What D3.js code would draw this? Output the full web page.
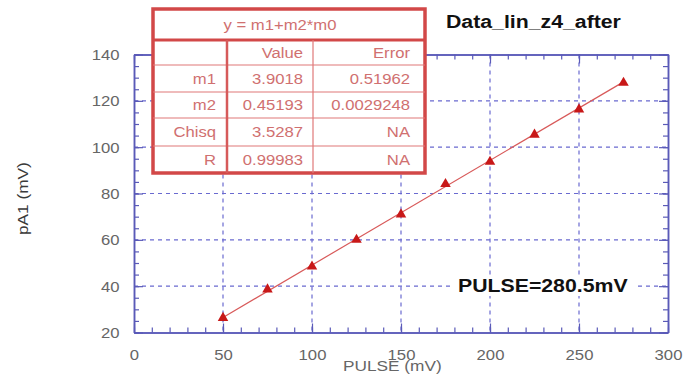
<!DOCTYPE html>
<html>
<head>
<meta charset="utf-8">
<script src="https://cdn.jsdelivr.net/npm/d3@7"></script>
<style>
  body { margin: 0; background: #fff; }
  svg { display: block; }
  text { font-family: "Liberation Sans", Arial, sans-serif; }
</style>
</head>
<body>
<svg id="chart" width="683" height="381"></svg>
<script>
// Measured points
const pulse = [50, 75, 100, 125, 150, 175, 200, 225, 250, 275];
const pa1 = [26.3, 38.6, 48.5, 60.0, 71.0, 84.1, 93.7, 105.4, 116.3, 127.8];

// Linear fit y = m1 + m2*m0
const m1 = 3.9018;
const m2 = 0.45193;

// Axis ticks
const xTicks = [0, 50, 100, 150, 200, 250, 300];
const yTicks = [20, 40, 60, 80, 100, 120, 140];
const xMinor = d3.range(0, 301, 10);
const yMinor = d3.range(20, 141, 5);

// Fit results table
const tableTitle = "y = m1+m2*m0";
const tableHead = ["", "Value", "Error"];
const tableRows = [
  ["m1", "3.9018", "0.51962"],
  ["m2", "0.45193", "0.0029248"],
  ["Chisq", "3.5287", "NA"],
  ["R", "0.99983", "NA"]
];

const chartTitle = "Data_lin_z4_after";
const note = "PULSE=280.5mV";
const xTitle = "PULSE (mV)";
const yTitle = "pA1  (mV)";

const SX = 1.15; // horizontal glyph stretch
const svg = d3.select("#chart");

const x = d3.scaleLinear().domain([0, 300]).range([134, 668]);
const y = d3.scaleLinear().domain([20, 140]).range([332.5, 54.5]);

const axisColor = "#5a5ab8";
const gridColor = "#6a6ad0";
const labelColor = "#666";

// dashed grid
const grid = svg.append("g");
grid.selectAll("line.gx").data(xTicks.slice(1, -1)).join("line")
  .attr("x1", d => x(d)).attr("x2", d => x(d))
  .attr("y1", y(140)).attr("y2", y(20))
  .attr("stroke", gridColor).attr("stroke-width", 1.2).attr("stroke-dasharray", "4,4");
grid.selectAll("line.gy").data(yTicks.slice(1, -1)).join("line")
  .attr("x1", x(0)).attr("x2", x(300))
  .attr("y1", d => y(d)).attr("y2", d => y(d))
  .attr("stroke", gridColor).attr("stroke-width", 1.2).attr("stroke-dasharray", "4,4");

// axes on all four sides, ticks pointing inward
function styleAxis(g) {
  g.select(".domain").attr("stroke", axisColor).attr("stroke-width", 1.5);
  g.selectAll(".tick line").attr("stroke", axisColor).attr("stroke-width", 1.2);
}
function frameAxis(axisFn, scale, pos, vals, size, labelled) {
  const a = axisFn(scale).tickValues(vals).tickSize(-size).tickSizeOuter(0);
  if (!labelled) a.tickFormat("");
  return svg.append("g").attr("transform", pos).call(a).call(styleAxis);
}
// minor ticks
frameAxis(d3.axisBottom, x, `translate(0,${y(20)})`, xMinor, 5, false);
frameAxis(d3.axisTop, x, `translate(0,${y(140)})`, xMinor, 5, false);
frameAxis(d3.axisLeft, y, `translate(${x(0)},0)`, yMinor, 5, false);
frameAxis(d3.axisRight, y, `translate(${x(300)},0)`, yMinor, 5, false);
// major ticks
const gxB = frameAxis(d3.axisBottom, x, `translate(0,${y(20)})`, xTicks, 9, true);
frameAxis(d3.axisTop, x, `translate(0,${y(140)})`, xTicks, 9, false);
const gyL = frameAxis(d3.axisLeft, y, `translate(${x(0)},0)`, yTicks, 9, true);
frameAxis(d3.axisRight, y, `translate(${x(300)},0)`, yTicks, 9, false);

gxB.selectAll(".tick text")
  .attr("y", 22).attr("dy", "0.35em")
  .attr("transform", `scale(${SX},1)`)
  .attr("fill", labelColor).attr("font-size", 14.5)
  .attr("font-family", "Liberation Sans, Arial, sans-serif");
gyL.selectAll(".tick text")
  .attr("x", -12.5).attr("dy", "0.35em")
  .attr("transform", `scale(${SX},1)`)
  .attr("fill", labelColor).attr("font-size", 14.5)
  .attr("font-family", "Liberation Sans, Arial, sans-serif");

// axis titles
svg.append("text")
  .attr("transform", `translate(343,371) scale(${SX},1)`)
  .attr("text-anchor", "start").attr("font-size", 15)
  .attr("fill", labelColor).text(xTitle);
svg.append("text")
  .attr("transform", `translate(28,235) rotate(-90) scale(${SX},1)`)
  .attr("text-anchor", "start").attr("font-size", 15)
  .attr("fill", "#3a3a3a").text(yTitle);

// fit line
svg.append("path")
  .datum([pulse[0], pulse[pulse.length - 1]])
  .attr("d", d3.line().x(d => x(d)).y(d => y(m1 + m2 * d)))
  .attr("fill", "none").attr("stroke", "#d85a5a").attr("stroke-width", 1.2);

// data markers
svg.append("g").selectAll("path").data(pulse).join("path")
  .attr("transform", (d, i) => `translate(${x(d)},${y(pa1[i])})`)
  .attr("d", d3.symbol(d3.symbolTriangle).size(48))
  .attr("fill", "#c81818");

// fit results table
const tbl = svg.append("g");
const tL = 153, tR = 425, tT = 9, tB = 173;
const colEdges = [tL, 227, 313, tR];
const rowEdges = [40, 65, 92, 118, 146, tB];
const tblLine = "#d24848", tblText = "#d07070";
tbl.append("rect").attr("x", tL).attr("y", tT).attr("width", tR - tL).attr("height", tB - tT)
  .attr("fill", "#fff").attr("stroke", tblLine).attr("stroke-width", 3.5);
tbl.selectAll("line.h").data(rowEdges.slice(1, -1)).join("line")
  .attr("x1", tL).attr("x2", tR).attr("y1", d => d).attr("y2", d => d)
  .attr("stroke", "#e07878").attr("stroke-width", 1.2);
tbl.append("line").attr("x1", tL).attr("x2", tR).attr("y1", rowEdges[0]).attr("y2", rowEdges[0])
  .attr("stroke", tblLine).attr("stroke-width", 3);
tbl.append("line").attr("x1", colEdges[1]).attr("x2", colEdges[1]).attr("y1", rowEdges[0]).attr("y2", tB)
  .attr("stroke", "#d65a5a").attr("stroke-width", 2.5);
tbl.append("line").attr("x1", colEdges[2]).attr("x2", colEdges[2]).attr("y1", rowEdges[0]).attr("y2", tB)
  .attr("stroke", "#e07878").attr("stroke-width", 1.2);
tbl.append("text")
  .attr("transform", `translate(280,${(tT + rowEdges[0]) / 2}) scale(${SX},1)`)
  .attr("dy", "0.35em").attr("text-anchor", "middle")
  .attr("font-size", 14.5).attr("fill", tblText).text(tableTitle);
const allRows = [tableHead].concat(tableRows);
const textRight = [216, 303, 410];
allRows.forEach((row, r) => {
  const cy = (rowEdges[r] + rowEdges[r + 1]) / 2;
  row.forEach((cell, c) => {
    if (!cell) return;
    tbl.append("text")
      .attr("transform", `translate(${textRight[c]},${cy}) scale(${SX},1)`)
      .attr("dy", "0.35em").attr("text-anchor", "end")
      .attr("font-size", 14.5).attr("fill", tblText).text(cell);
  });
});

// chart title
svg.append("text")
  .attr("transform", `translate(446,28) scale(${SX},1)`)
  .attr("font-size", 18.5).attr("font-weight", "bold").attr("fill", "#111")
  .text(chartTitle);

// note with white backing
svg.append("rect").attr("x", 453).attr("y", 276).attr("width", 184).attr("height", 20).attr("fill", "#fff");
svg.append("text")
  .attr("transform", `translate(458,292) scale(${SX},1)`)
  .attr("font-size", 18.5).attr("font-weight", "bold").attr("fill", "#111")
  .text(note);
</script>
</body>
</html>
